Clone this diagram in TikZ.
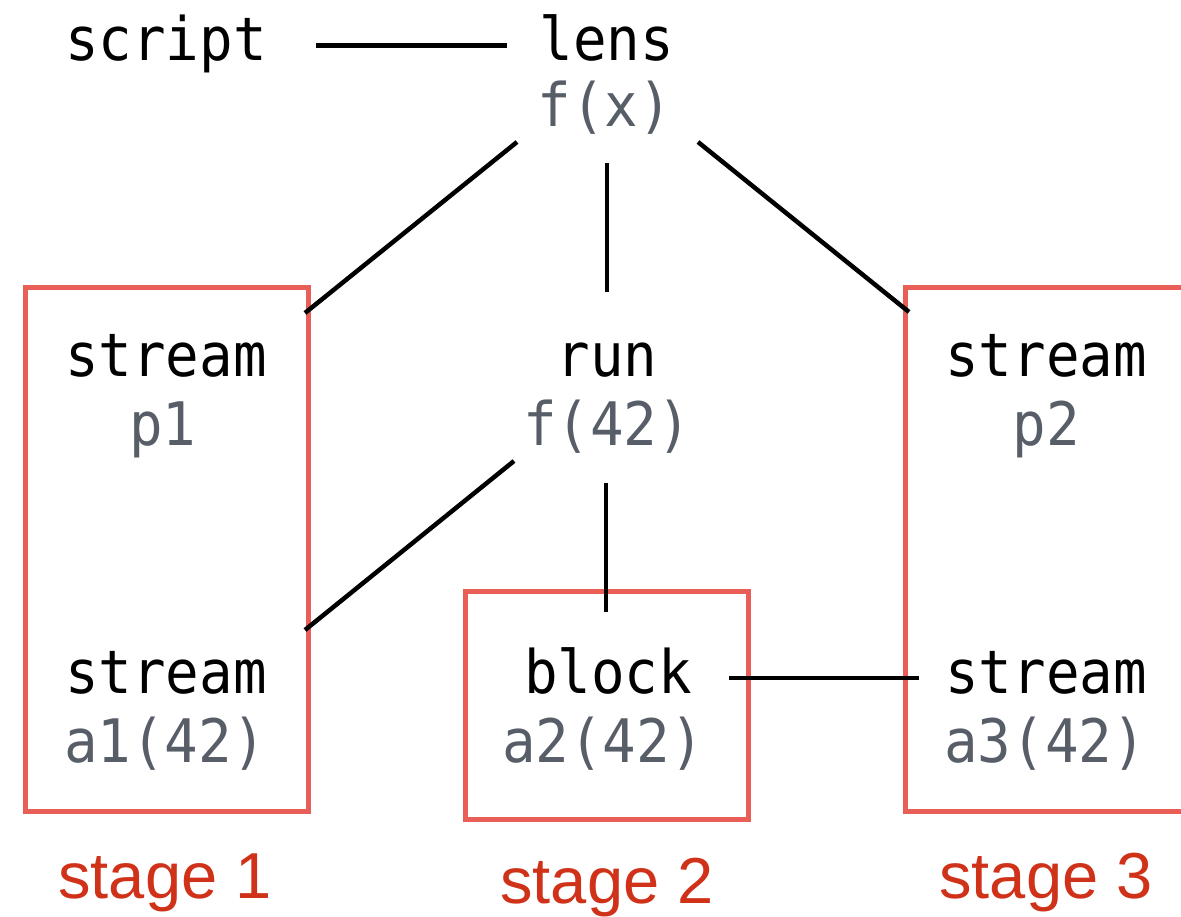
\documentclass[tikz,border=0pt]{standalone}
\usepackage{fontspec}
\newfontfamily\codefont[FakeStretch=0.93]{DejaVu Sans Mono}
\newfontfamily\labelfont{Liberation Sans}
\definecolor{boxred}{HTML}{EA5E58}
\definecolor{labelred}{HTML}{CF3119}
\definecolor{codegray}{HTML}{575E68}
\tikzset{
  code/.style={inner sep=0pt, anchor=base, font=\codefont\fontsize{60}{60}\selectfont, text=black},
  sub/.style={code, text=codegray},
  stagelabel/.style={inner sep=0pt, anchor=base, font=\labelfont\fontsize{65}{65}\selectfont, text=labelred},
  stagebox/.style={draw=boxred, line width=5pt, inner sep=0pt},
  link/.style={draw=black, line width=4.5pt}
}
\begin{document}
\begin{tikzpicture}[x=1pt, y=-1pt]
\useasboundingbox (0,0) rectangle (1181,917);
\clip (0,0) rectangle (1181,917);
% stage boxes
\node[stagebox, minimum width=282.5pt, minimum height=523pt] (box1) at (166.75,549.5) {};
\node[stagebox, minimum width=283pt, minimum height=228pt] (box2) at (606.5,705) {};
\node[stagebox, minimum width=290pt, minimum height=523pt] (box3) at (1050,549.5) {};
% texts
\node[code] (script) at (166,61) {script};
\node[code] (lens) at (607,61) {lens};
\node[sub] (fx) at (605,127) {f(x)};
\node[code] (streamA) at (166,377) {stream};
\node[sub] (p1) at (163,445) {p1};
\node[code] (run) at (607,377) {run};
\node[sub] (f42) at (607,445) {f(42)};
\node[code] (streamB) at (1046,377) {stream};
\node[sub] (p2) at (1046,445) {p2};
\node[code] (streamC) at (166,693) {stream};
\node[sub] (a1) at (165,762) {a1(42)};
\node[code] (block) at (608,693) {block};
\node[sub] (a2) at (603,762) {a2(42)};
\node[code] (streamD) at (1046,693) {stream};
\node[sub] (a3) at (1045,762) {a3(42)};
\node[stagelabel] (stage1) at (165,898) {stage 1};
\node[stagelabel] (stage2) at (607,903) {stage 2};
\node[stagelabel] (stage3) at (1046,898) {stage 3};
% connector end points
\coordinate (script-e) at (316,45.5);
\coordinate (lens-w) at (507,45.5);
\coordinate (lens-sw) at (517,142);
\coordinate (lens-s) at (607,163);
\coordinate (lens-se) at (698,142);
\coordinate (box1-ne) at (305,313);
\coordinate (run-n) at (607,292);
\coordinate (box3-nw) at (909,312);
\coordinate (run-sw) at (514,461);
\coordinate (box1-e) at (305,630);
\coordinate (run-s) at (606,483);
\coordinate (box2-n) at (606,612);
\coordinate (block-e) at (729,678);
\coordinate (streamD-w) at (919,678);
% connectors
\draw[link] (script-e) -- (lens-w);
\draw[link] (lens-sw) -- (box1-ne);
\draw[link] (lens-s) -- (run-n);
\draw[link] (lens-se) -- (box3-nw);
\draw[link] (run-sw) -- (box1-e);
\draw[link] (run-s) -- (box2-n);
\draw[link] (block-e) -- (streamD-w);
\end{tikzpicture}
\end{document}
